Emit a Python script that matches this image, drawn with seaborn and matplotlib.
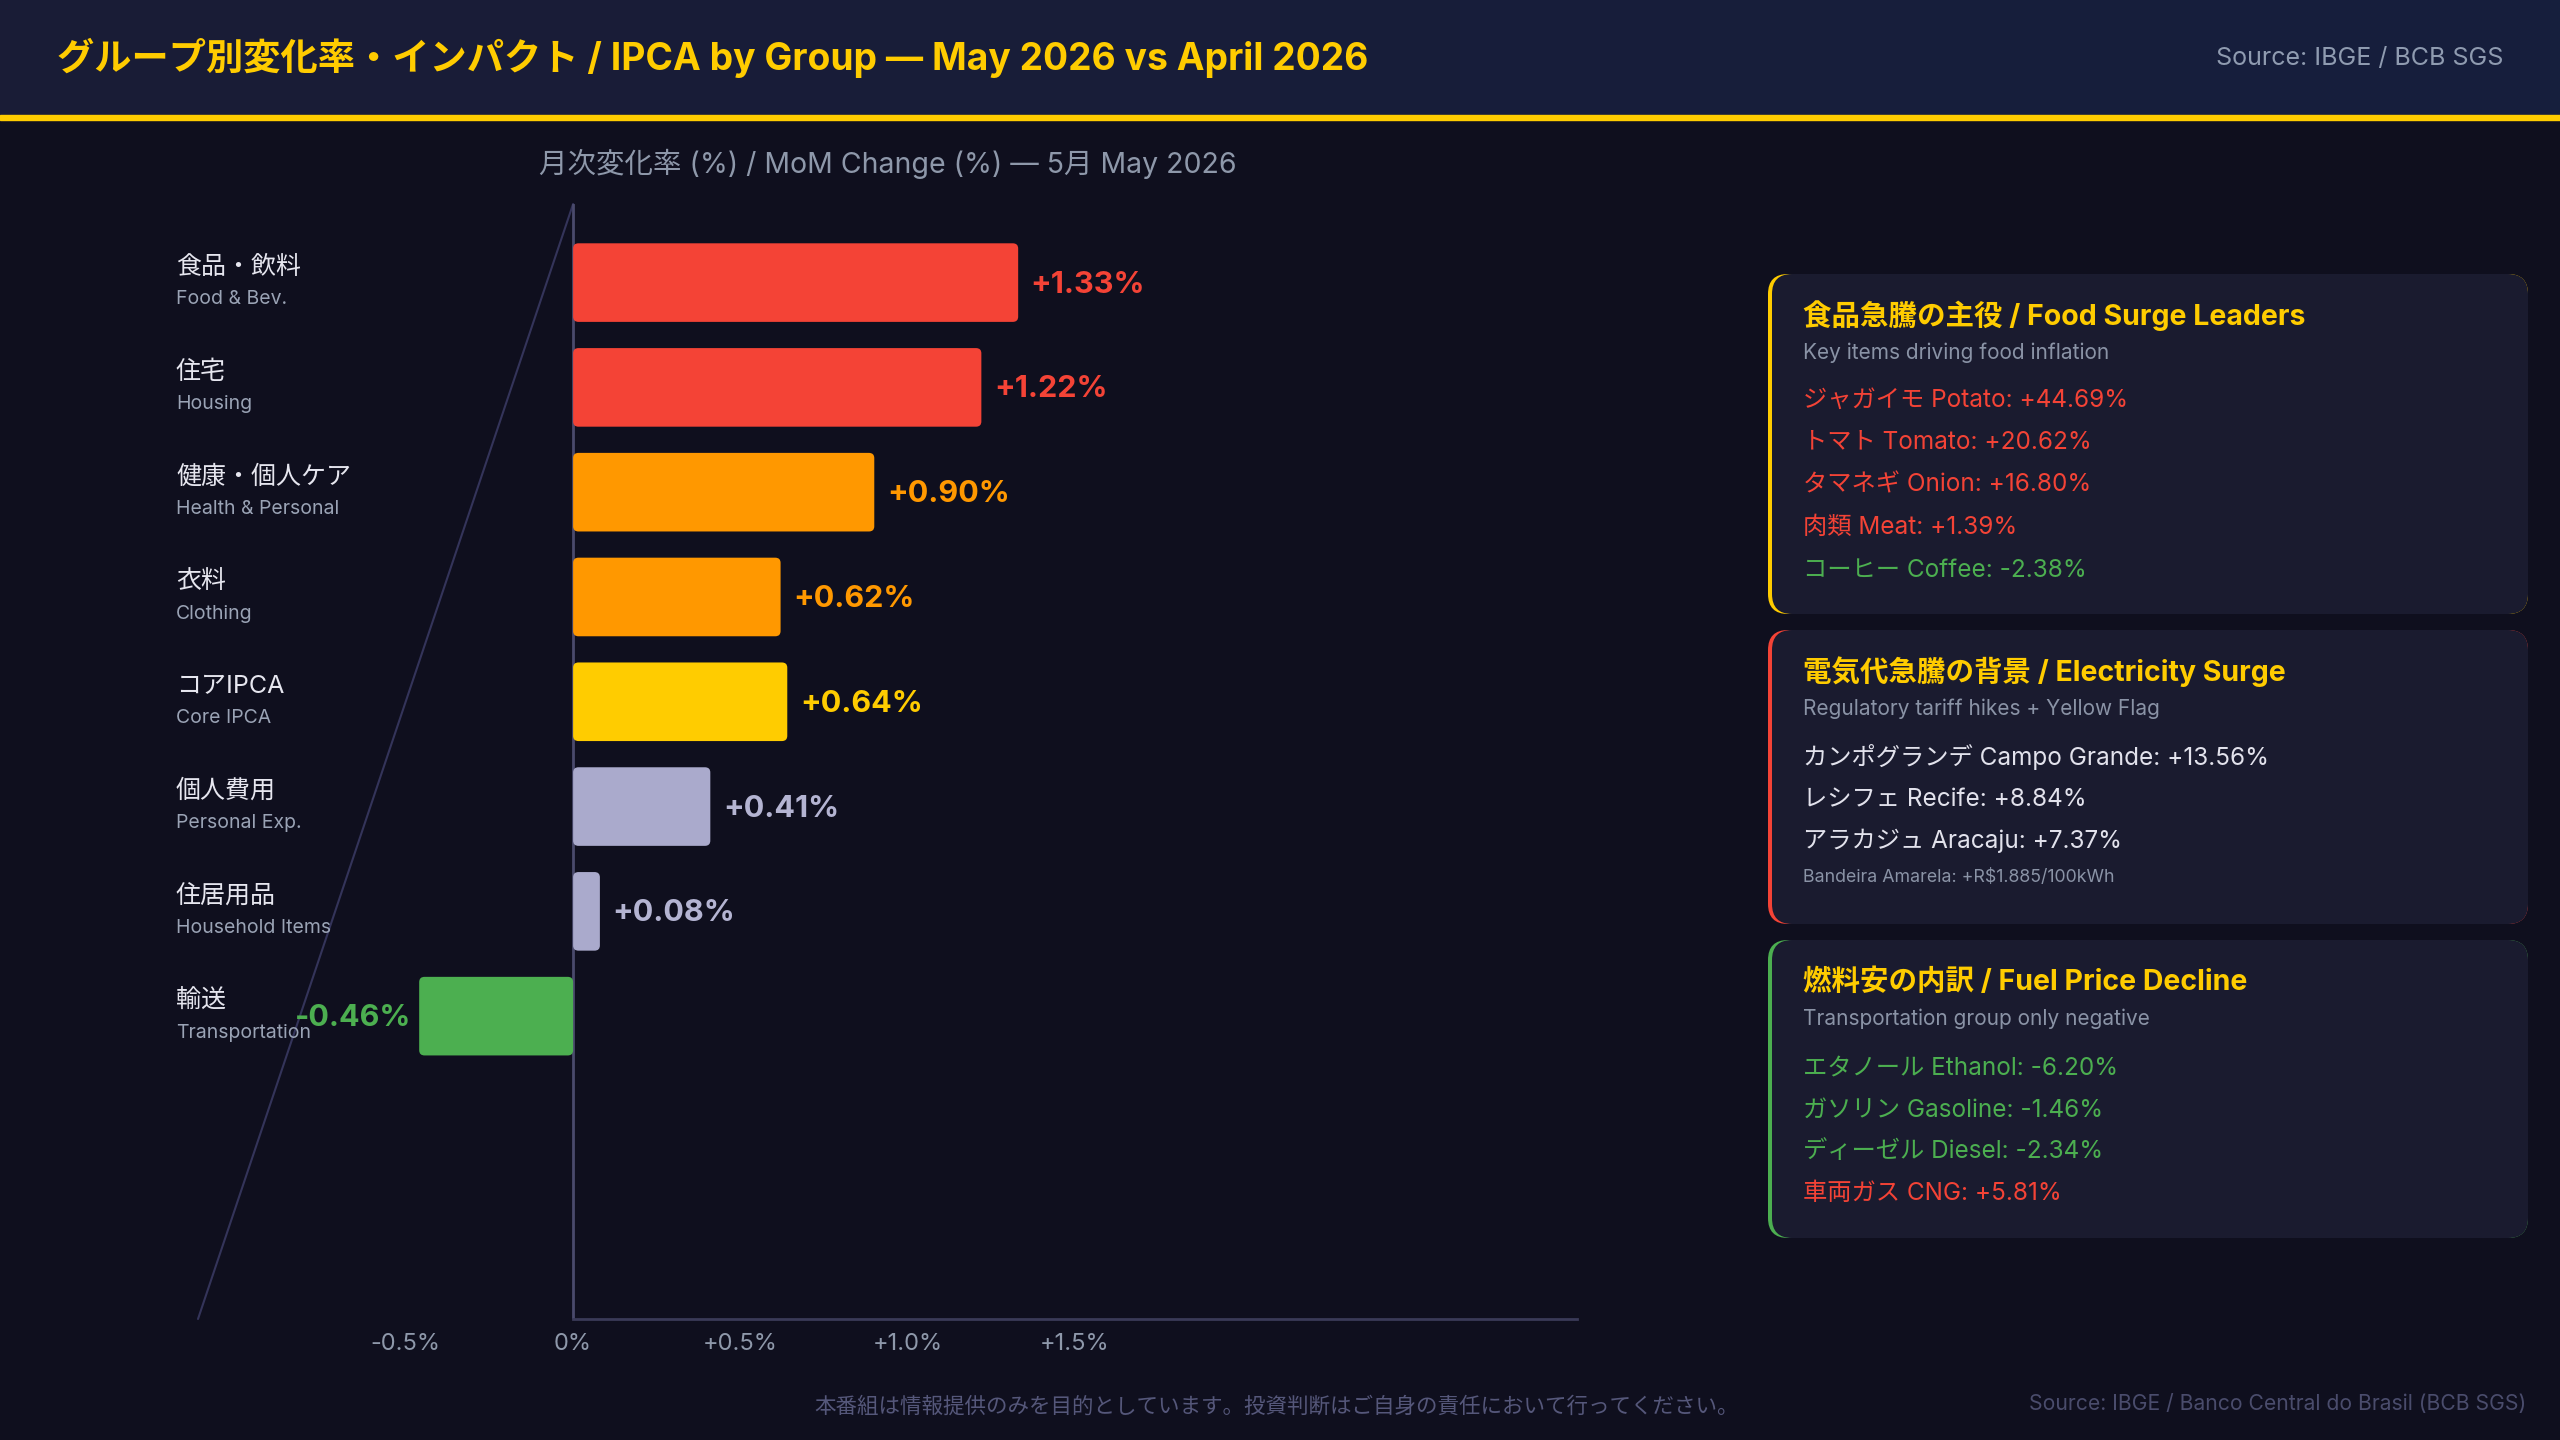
import numpy as np
import pandas as pd
import matplotlib
matplotlib.use("Agg")
import matplotlib.pyplot as plt
import seaborn as sns
from matplotlib.patches import FancyBboxPatch, Rectangle
from matplotlib.colors import LinearSegmentedColormap

# ---------------- data ----------------
categories_jp = ["食品・飲料", "住宅", "健康・個人ケア", "衣料", "コアIPCA", "個人費用", "住居用品", "輸送"]
categories_en = ["Food & Bev.", "Housing", "Health & Personal", "Clothing", "Core IPCA",
                 "Personal Exp.", "Household Items", "Transportation"]
mom_values = [1.33, 1.22, 0.90, 0.62, 0.64, 0.41, 0.08, -0.46]
bar_colors = ["#f44336", "#f44336", "#ff9800", "#ff9800", "#ffcc00", "#aaaacc", "#aaaacc", "#4caf50"]
label_colors = ["#f44336", "#f44336", "#ff9800", "#ff9800", "#ffcc00", "#b4b4d2", "#b4b4d2", "#4caf50"]
x_ticks = [-0.5, 0.0, 0.5, 1.0, 1.5]
x_tick_labels = ["-0.5%", "0%", "+0.5%", "+1.0%", "+1.5%"]

title_text = "グループ別変化率・インパクト / IPCA by Group — May 2026 vs April 2026"
header_source = "Source: IBGE / BCB SGS"
axis_title = "月次変化率 (%) / MoM Change (%) — 5月 May 2026"
footer_note = "本番組は情報提供のみを目的としています。投資判断はご自身の責任において行ってください。"
footer_source = "Source: IBGE / Banco Central do Brasil (BCB SGS)"

card1_title = "食品急騰の主役 / Food Surge Leaders"
card1_sub = "Key items driving food inflation"
card1_items = ["ジャガイモ Potato: +44.69%", "トマト Tomato: +20.62%", "タマネギ Onion: +16.80%",
               "肉類 Meat: +1.39%", "コーヒー Coffee: -2.38%"]
card1_colors = ["#f44336", "#f44336", "#f44336", "#f44336", "#4caf50"]

card2_title = "電気代急騰の背景 / Electricity Surge"
card2_sub = "Regulatory tariff hikes + Yellow Flag"
card2_items = ["カンポグランデ Campo Grande: +13.56%", "レシフェ Recife: +8.84%", "アラカジュ Aracaju: +7.37%"]
card2_colors = ["#e2e2ec", "#e2e2ec", "#e2e2ec"]
card2_note = "Bandeira Amarela: +R$1.885/100kWh"

card3_title = "燃料安の内訳 / Fuel Price Decline"
card3_sub = "Transportation group only negative"
card3_items = ["エタノール Ethanol: -6.20%", "ガソリン Gasoline: -1.46%", "ディーゼル Diesel: -2.34%",
               "車両ガス CNG: +5.81%"]
card3_colors = ["#4caf50", "#4caf50", "#4caf50", "#f44336"]

# ---------------- style ----------------
sns.set_theme(style="dark")
FONTS = ["Inter", "Noto Sans CJK JP", "DejaVu Sans"]
plt.rcParams["font.family"] = FONTS
BG = "#0f0f1e"
W, H = 2560, 1440

fig = plt.figure(figsize=(25.6, 14.4), dpi=100, facecolor=BG)

# background / overlay axes in pixel coordinates
bg = fig.add_axes([0, 0, 1, 1], zorder=0)
bg.axis("off")
bg.set_facecolor(BG)
bg.add_patch(Rectangle((0, 0), W, H, color=BG, zorder=0))

grad = np.linspace(0, 1, 256).reshape(1, -1)
hcmap = LinearSegmentedColormap.from_list("h", ["#1a1c36", "#161f3d"])
bg.imshow(grad, extent=(0, W, 116, 0), cmap=hcmap, aspect="auto", zorder=1)
bg.add_patch(Rectangle((0, 115), W, 5, color="#ffcc00", zorder=2))
bg.set_xlim(0, W)
bg.set_ylim(H, 0)

bg.text(57, 58, title_text, color="#ffcc00", fontsize=26.8, fontweight="bold",
        ha="left", va="center", zorder=3)
bg.text(2503, 58, header_source, color="#8f9bb0", fontsize=18, ha="right", va="center", zorder=3)

bg.text(888, 164, axis_title, color="#8e98aa", fontsize=20.5, ha="center", va="center", zorder=3)

bg.text(1277, 1406, footer_note, color="#55577a", fontsize=15.5, ha="center", va="center", zorder=3)
bg.text(2526, 1404, footer_source, color="#4a4c6c", fontsize=15.2, ha="right", va="center", zorder=3)


def card(y0, y1, accent, title, sub, items, colors, ys, note=None, note_y=None):
    x0, x1 = 1768, 2528
    r = 20
    bg.add_patch(FancyBboxPatch((x0, y0), x1 - x0, y1 - y0,
                                boxstyle=f"round,pad=0,rounding_size={r}",
                                fc=accent, ec="none", zorder=2))
    bg.add_patch(FancyBboxPatch((x0 + 4, y0), x1 - x0 - 4, y1 - y0,
                                boxstyle=f"round,pad=0,rounding_size={r}",
                                fc="#1a1b2f", ec="none", zorder=2.5))
    tx = 1803
    bg.text(tx, ys[0] + 1, title, color="#ffcc00", fontsize=20.5, fontweight="bold",
            ha="left", va="center", zorder=3)
    bg.text(tx, ys[1] + 2, sub, color="#8a93a6", fontsize=15, ha="left", va="center", zorder=3)
    for t, c, yy in zip(items, colors, ys[2:]):
        bg.text(tx, yy + 3, t, color=c, fontsize=17.5, ha="left", va="center", zorder=3)
    if note:
        bg.text(tx, note_y + 2, note, color="#8a93a6", fontsize=12.8, ha="left", va="center", zorder=3)


card(274, 614, "#ffcc00", card1_title, card1_sub, card1_items, card1_colors,
     [315, 351, 397, 439, 482, 524, 567])
card(630, 924, "#f44336", card2_title, card2_sub, card2_items, card2_colors,
     [671, 707, 754, 797, 838], note=card2_note, note_y=875)
card(940, 1238, "#4caf50", card3_title, card3_sub, card3_items, card3_colors,
     [981, 1017, 1065, 1107, 1148, 1190])

# ---------------- main chart ----------------
ax_l, ax_r, ax_t, ax_b = 198, 1577, 204, 1319
ax = fig.add_axes([ax_l / W, 1 - ax_b / H, (ax_r - ax_l) / W, (ax_b - ax_t) / H], zorder=1)
ax.set_facecolor("none")

df = pd.DataFrame({"cat": categories_en, "val": mom_values})
sns.barplot(data=df, x="val", y="cat", hue="cat", palette=bar_colors, legend=False,
            orient="h", width=0.75, ax=ax, saturation=1)

xmin, xmax = -1.121, 3.0
ax.set_xlim(xmin, xmax)
ax.set_ylim(9.89, -0.75)

# rounded bars
rx = 0.016
ry = 0.05
for p, col in zip(list(ax.patches), bar_colors):
    x, y, w, h = p.get_x(), p.get_y(), p.get_width(), p.get_height()
    if w < 0:
        x, w = x + w, -w
    p.set_visible(False)
    ax.add_patch(FancyBboxPatch((x, y), w, h, boxstyle=f"round,pad=0,rounding_size={rx}",
                                mutation_aspect=ry / rx, fc=col, ec="none", zorder=3))

# value labels
for i, (v, c) in enumerate(zip(mom_values, label_colors)):
    if v >= 0:
        ax.annotate(f"+{v:.2f}%", xy=(v, i), xytext=(9, -1.5), textcoords="offset points",
                    ha="left", va="center", color=c, fontsize=22, fontweight="bold", zorder=4)
    else:
        ax.annotate(f"{v:.2f}%", xy=(v, i), xytext=(-6, -1.5), textcoords="offset points",
                    ha="right", va="center", color=c, fontsize=22, fontweight="bold", zorder=4)

# category labels
for i, (jp, en) in enumerate(zip(categories_jp, categories_en)):
    ax.annotate(jp, xy=(176 / W, i), xycoords=("figure fraction", "data"),
                xytext=(0, 11), textcoords="offset points", ha="left", va="center",
                color="#e6e6ef", fontsize=18, zorder=4, annotation_clip=False)
    ax.annotate(en, xy=(176 / W, i), xycoords=("figure fraction", "data"),
                xytext=(0, -12), textcoords="offset points", ha="left", va="center",
                color="#9aa3b5", fontsize=14, zorder=4, annotation_clip=False)

ax.set_yticks([])
ax.set_ylabel("")
ax.set_xlabel("")
ax.set_xticks(x_ticks)
ax.set_xticklabels(x_tick_labels, color="#8e98aa", fontsize=17)
ax.tick_params(axis="x", length=0, pad=10)
ax.grid(False)
for s in ["top", "right", "left"]:
    ax.spines[s].set_visible(False)
ax.spines["bottom"].set_visible(True)
ax.spines["bottom"].set_color("#3a3a58")
ax.spines["bottom"].set_linewidth(2)
ax.spines["bottom"].set_bounds(0, xmax)

ax.axvline(0, color="#4a4a6c", lw=2, zorder=2)
frac0 = (0 - xmin) / (xmax - xmin)
ax.plot([0, frac0], [0, 1], transform=ax.transAxes, color="#34345a", lw=1.5, zorder=1,
        clip_on=False)

fig.savefig("out.png", dpi=100, facecolor=BG)
